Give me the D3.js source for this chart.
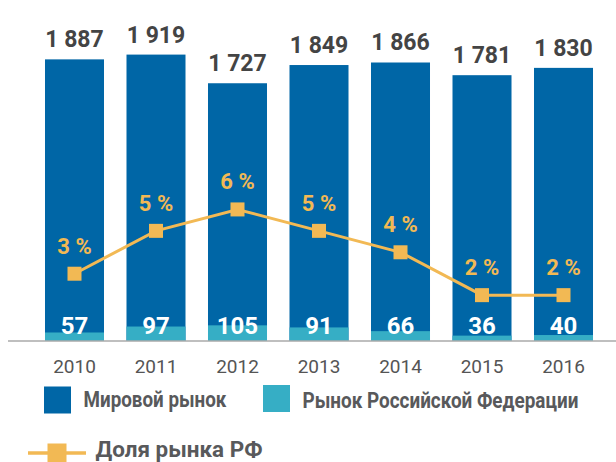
<!DOCTYPE html>
<html>
<head>
<meta charset="utf-8">
<script src="https://cdn.jsdelivr.net/npm/d3@7"></script>
<style>
  body { margin: 0; background: #fff; }
  text { font-family: Roboto, "Noto Sans", sans-serif; }
</style>
</head>
<body>
<div id="chart"></div>
<script>
// data
const years = ["2010", "2011", "2012", "2013", "2014", "2015", "2016"];
const worldMarket = [1887, 1919, 1727, 1849, 1866, 1781, 1830];
const russiaMarket = [57, 97, 105, 91, 66, 36, 40];
const russiaShare = [3, 5, 6, 5, 4, 2, 2]; // %

const legendLabels = ["Мировой рынок", "Рынок Российской Федерации", "Доля рынка РФ"];

// colours
const blue = "#0066a6";
const teal = "#36aec5";
const orange = "#f2b954";

const width = 616;
const height = 462;

const svg = d3.select("#chart")
  .append("svg")
    .attr("width", width)
    .attr("height", height);

// scales
const x = d3.scaleBand()
  .domain(years)
  .range([22.5, 615.5])
  .padding(0.276);

const y = d3.scaleLinear()
  .domain([0, 2000])
  .range([341, 42.5]);

const yShare = d3.scaleLinear()
  .domain([0, 7])
  .range([338, 188]);

const cx = i => x(years[i]) + x.bandwidth() / 2;

// world bars
svg.append("g")
  .selectAll("rect")
  .data(worldMarket)
  .join("rect")
    .attr("x", (d, i) => x(years[i]))
    .attr("y", d => y(d))
    .attr("width", x.bandwidth())
    .attr("height", d => y(0) - y(d))
    .attr("fill", blue);

// russian bars
svg.append("g")
  .selectAll("rect")
  .data(russiaMarket)
  .join("rect")
    .attr("x", (d, i) => x(years[i]))
    .attr("y", d => y(d))
    .attr("width", x.bandwidth())
    .attr("height", d => y(0) - y(d))
    .attr("fill", teal);

// baseline + year labels
const xAxis = d3.axisBottom(x).tickSize(0).tickPadding(20);
svg.append("g")
  .attr("transform", `translate(0,${y(0)})`)
  .call(xAxis)
  .call(g => g.select(".domain")
      .attr("d", `M8,0H${width}`)
      .attr("stroke", "#aaa")
      .attr("stroke-width", 1.5))
  .call(g => g.selectAll("text")
      .attr("font-size", 19)
      .attr("fill", "#555")
      .attr("dy", "0.71em")
      .attr("y", 19));

// world values on top
svg.append("g")
  .selectAll("text")
  .data(worldMarket)
  .join("text")
    .attr("x", (d, i) => cx(i))
    .attr("y", d => y(d) - 12)
    .attr("text-anchor", "middle")
    .attr("font-size", 23)
    .attr("font-weight", 700)
    .attr("fill", "#444")
    .text(d => d3.format(",")(d).replace(",", " "));

// russian values inside
svg.append("g")
  .selectAll("text")
  .data(russiaMarket)
  .join("text")
    .attr("x", (d, i) => cx(i))
    .attr("y", 333.5)
    .attr("text-anchor", "middle")
    .attr("font-size", 24)
    .attr("font-weight", 700)
    .attr("fill", "#fff")
    .text(d => d);

// share line
const line = d3.line()
  .x((d, i) => cx(i))
  .y(d => yShare(d));

svg.append("path")
  .datum(russiaShare)
  .attr("d", line)
  .attr("fill", "none")
  .attr("stroke", orange)
  .attr("stroke-width", 3);

svg.append("g")
  .selectAll("rect")
  .data(russiaShare)
  .join("rect")
    .attr("x", (d, i) => cx(i) - 7)
    .attr("y", d => yShare(d) - 7)
    .attr("width", 14)
    .attr("height", 14)
    .attr("fill", orange);

svg.append("g")
  .selectAll("text")
  .data(russiaShare)
  .join("text")
    .attr("x", (d, i) => cx(i))
    .attr("y", d => yShare(d) - 20)
    .attr("text-anchor", "middle")
    .attr("font-size", 22)
    .attr("font-weight", 700)
    .attr("fill", orange)
    .text(d => d + " %");

// legend
const legend = svg.append("g").attr("font-size", 22).attr("font-weight", 700).attr("fill", "#58595b");

// condensed look: squeeze each label horizontally to the reference width
function legendText(label, lx, ly, w) {
  const t = legend.append("text").text(label);
  const natural = t.node().getComputedTextLength();
  t.attr("transform", `translate(${lx},${ly}) scale(${w / natural},1)`);
}

legend.append("rect").attr("x", 44).attr("y", 386.5).attr("width", 27).attr("height", 27).attr("fill", blue);
legendText(legendLabels[0], 83.5, 407, 143);

legend.append("rect").attr("x", 263).attr("y", 385).attr("width", 27).attr("height", 27).attr("fill", teal);
legendText(legendLabels[1], 302.5, 408, 276);

legend.append("line").attr("x1", 28).attr("x2", 86).attr("y1", 453).attr("y2", 453)
  .attr("stroke", orange).attr("stroke-width", 3.5);
legend.append("rect").attr("x", 47.5).attr("y", 443.5).attr("width", 19).attr("height", 19).attr("fill", orange);
legendText(legendLabels[2], 95.5, 456.5, 167);
</script>
</body>
</html>
